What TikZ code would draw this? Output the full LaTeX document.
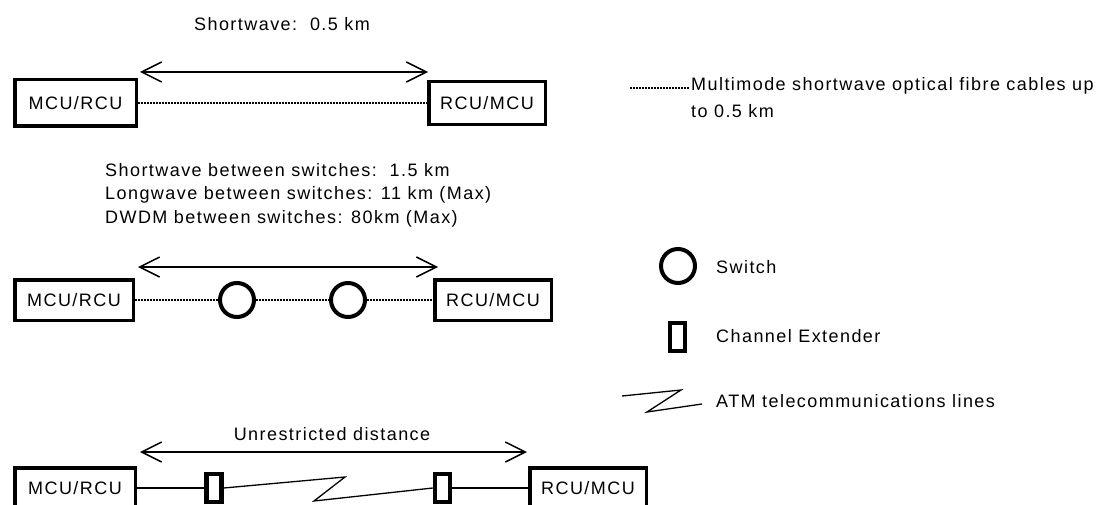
\documentclass[tikz,border=0pt]{standalone}
\usepackage{fontspec}
\setmainfont[LetterSpace=8]{Liberation Sans}
\usetikzlibrary{arrows.meta}
\begin{document}
\begin{tikzpicture}[x=1pt,y=-1pt,
  every node/.style={font=\fontsize{18}{22}\selectfont, inner sep=0pt},
  unitbox/.style={draw, line width=3.5pt, inner sep=0pt},
  switchnode/.style={circle, draw, line width=4pt, minimum size=34pt, inner sep=0pt},
  extender/.style={draw, line width=4.5pt, minimum width=15pt, minimum height=28pt, inner sep=0pt},
  fiber/.style={line width=1.2pt, dash pattern=on 1.5pt off 1.5pt},
  copper/.style={line width=1.3pt},
  dim/.style={line width=1.5pt, {Straight Barb[length=20pt,width=20pt]}-{Straight Barb[length=20pt,width=20pt]}}
]
\useasboundingbox (0,0) rectangle (1107,505);
\fill[white] (0,0) rectangle (1107,505);
\clip (0,0) rectangle (1107,505);

% Row 1
\node[anchor=base] (t1) at (282,31) {Shortwave:~~0.5 km};
\coordinate (a1l) at (140,72);
\coordinate (a1r) at (428,72);
\draw[dim] (a1l) -- (a1r);
\node[unitbox, minimum width=121.5pt, minimum height=46.5pt] (L1) at (75.5,103) {MCU/RCU};
\node[unitbox, minimum width=116.5pt, minimum height=43pt] (R1) at (487,103) {RCU/MCU};
\draw[fiber] (L1) -- (R1);

% Row 2
\node[anchor=base west] (t2a) at (105,177) {Shortwave between switches:~~1.5 km};
\node[anchor=base west] (t2b) at (105,200) {Longwave between switches: 11 km (Max)};
\node[anchor=base west] (t2c) at (105,223) {DWDM between switches: 80km (Max)};
\coordinate (a2l) at (138,267);
\coordinate (a2r) at (438,267);
\draw[dim] (a2l) -- (a2r);
\node[unitbox, minimum width=118.5pt, minimum height=40.5pt] (L2) at (74,300) {MCU/RCU};
\node[switchnode] (S1) at (237,300) {};
\node[switchnode] (S2) at (348,300) {};
\node[unitbox, minimum width=116.5pt, minimum height=40.5pt] (R2) at (493,300) {RCU/MCU};
\draw[fiber] (L2) -- (S1);
\draw[fiber] (S1) -- (S2);
\draw[fiber] (S2) -- (R2);

% Row 3
\node[anchor=base] (t3) at (332,440) {Unrestricted distance};
\coordinate (a3l) at (140,452);
\coordinate (a3r) at (527,452);
\draw[dim] (a3l) -- (a3r);
\node[unitbox, minimum width=120.5pt, minimum height=40pt] (L3) at (75,488) {MCU/RCU};
\node[extender] (E1) at (214,488) {};
\node[extender] (E2) at (442.5,488) {};
\node[unitbox, minimum width=116.5pt, minimum height=40pt] (R3) at (588,488) {RCU/MCU};
\draw[copper] (L3) -- (E1);
\coordinate (z1) at (345,477);
\coordinate (z2) at (314,501);
\draw[copper] (E1.east) -- (z1) -- (z2) -- (E2.west);
\draw[copper] (E2) -- (R3);

% Legend
\coordinate (lg0) at (630,88);
\coordinate (lg1) at (690,88);
\draw[fiber] (lg0) -- (lg1);
\node[anchor=base west] (lt1) at (691,91) {Multimode shortwave optical fibre cables up};
\node[anchor=base west] (lt2) at (691,118) {to 0.5 km};
\node[switchnode] (LS) at (678,266) {};
\node[anchor=base west] (LSt) at (716,273) {Switch};
\node[extender] (LE) at (677.5,337) {};
\node[anchor=base west] (LEt) at (716,342) {Channel Extender};
\coordinate (k1) at (622,396);
\coordinate (k2) at (681,390);
\coordinate (k3) at (647,412);
\coordinate (k4) at (702,404);
\draw[copper] (k1) -- (k2) -- (k3) -- (k4);
\node[anchor=base west] (LAt) at (716,407) {ATM telecommunications lines};
\end{tikzpicture}
\end{document}
